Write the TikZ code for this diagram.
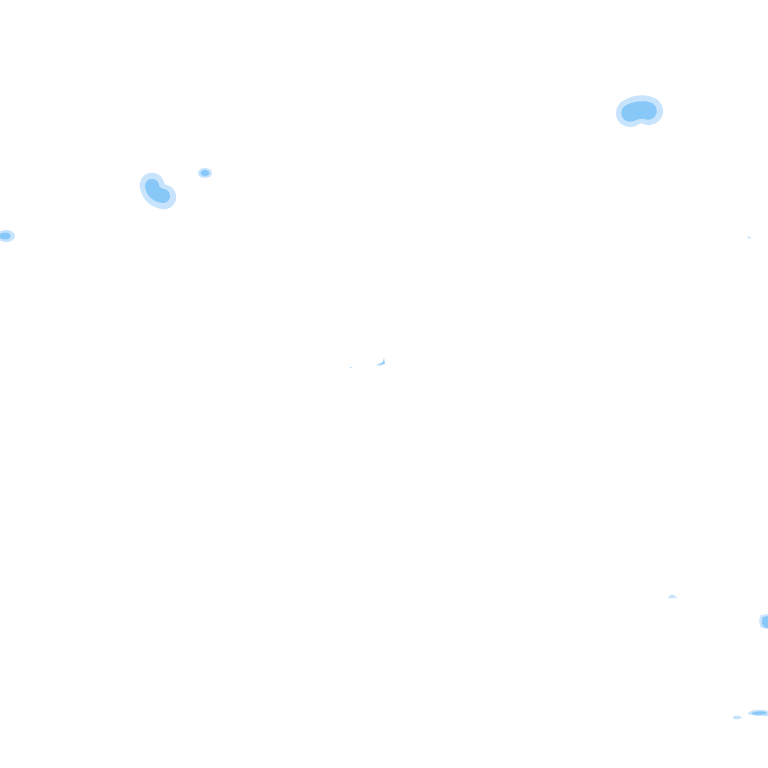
\documentclass[tikz,border=0pt]{standalone}
\usepackage{tikz}

\definecolor{blobc}{RGB}{135,200,248}
\definecolor{blobl}{RGB}{200,228,252}

\begin{document}
\begin{tikzpicture}[x=0.01cm,y=-0.01cm,
  halo/.style={fill=blobl,draw=none},
  blob/.style={fill=blobc,draw=none},
  stroke/.style={draw=blobc,line cap=round,line join=round},
  softstroke/.style={draw=blobl,line cap=round,line join=round}]

  \useasboundingbox[fill=white] (0,0) rectangle (768,768);

  % oben links
  \draw[softstroke,line width=7] (152,185) .. controls (153,192) and (157,196) .. (164,197);
  \draw[stroke,line width=4] (152,186) .. controls (153,192) and (157,195) .. (163,196);
  \fill[halo] (205,173) ellipse (7 and 5);
  \fill[blob] (205,173) ellipse (4.5 and 3.2);
  \fill[halo] (6,236) ellipse (9 and 6);
  \fill[blob] (5,236) ellipse (6 and 3.5);

  % oben rechts
  \draw[softstroke,line width=8] (630,113) .. controls (636,109) and (644,108) .. (649,111);
  \draw[stroke,line width=5] (630,113) .. controls (636,110) and (644,109) .. (648,111);
  \fill[blobl] (749,237.5) ellipse (2 and 1);

  % Mitte
  \fill[halo] (376,365) -- (383,362) -- (384,357) -- (385,364) -- (380,366) -- cycle;
  \fill[blob] (378,364.5) -- (383,362.5) -- (384,359) -- (384.5,363.5) -- cycle;
  \fill[blobl] (351,367.5) ellipse (1.5 and 0.8);

  % unten rechts
  \fill[halo] (668,598) .. controls (670,593) and (674,594) .. (677,598) -- cycle;
  \fill[halo] (768,614) -- (761,615) .. controls (758,620) and (759,626) .. (762,628) -- (768,629) -- cycle;
  \fill[blob] (768,616) -- (763,617) .. controls (761,621) and (762,625) .. (764,627) -- (768,628) -- cycle;
  \fill[halo] (748,713) .. controls (752,709) and (762,709) .. (768,711) -- (768,716) .. controls (760,716) and (752,716) .. (748,714) -- cycle;
  \fill[blob] (752,713) .. controls (756,711) and (762,711) .. (766,712) -- (766,714) .. controls (760,715) and (755,715) .. (752,714) -- cycle;
  \fill[halo] (737,717.5) ellipse (4.5 and 1.8);

\end{tikzpicture}
\end{document}
